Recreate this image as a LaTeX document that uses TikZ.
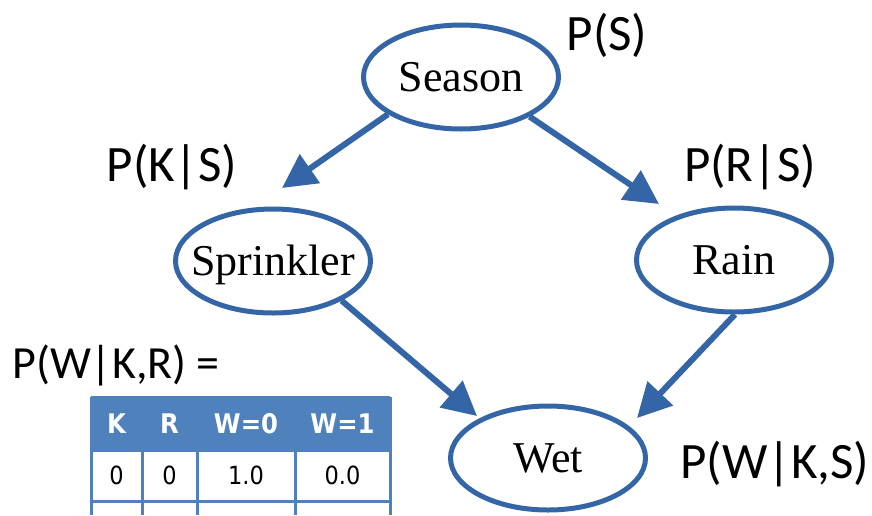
\documentclass[tikz,border=0pt]{standalone}
\usepackage{fontspec}
\setmainfont{Liberation Serif}
\newfontfamily\lbl{Carlito}
\newfontfamily\tbl{DejaVu Sans Condensed}
\usetikzlibrary{arrows.meta,shapes.geometric}
\definecolor{edgeblue}{RGB}{52,101,166}
\definecolor{hdrblue}{RGB}{79,129,189}
\newcommand{\ctext}[1]{\makebox[0pt]{\smash{\raisebox{-0.33em}{#1}}}}
\begin{document}
\begin{tikzpicture}[x=1pt,y=-1pt,
  bn/.style={ellipse,draw=edgeblue,line width=5pt,minimum width=195pt,minimum height=104pt,inner sep=0pt,font=\fontsize{44}{48}\selectfont},
  edge/.style={draw=edgeblue,line width=6pt,-{Triangle[length=34pt,width=34pt]}},
  lab/.style={font=\lbl\fontsize{51}{56}\selectfont,anchor=base,inner sep=0pt},
  hd/.style={font=\tbl\bfseries\fontsize{27}{30}\selectfont,text=white,inner sep=0pt},
  cell/.style={font=\tbl\fontsize{25}{28}\selectfont,inner sep=0pt},
  grid/.style={draw=hdrblue,line width=3pt}]
\useasboundingbox (0,0) rectangle (872,515);
% nodes
\node[bn] (S) at (461,77) {\ctext{Season}};
\node[bn] (K) at (273,261) {\ctext{Sprinkler}};
\node[bn] (R) at (734,260) {\ctext{Rain}};
\node[bn] (W) at (548,458) {\ctext{Wet}};
% arrow tips
\coordinate (t1) at (282,188);
\coordinate (t2) at (659,204);
\coordinate (t3) at (477,416);
\coordinate (t4) at (637,418);
\draw[edge] (S.207.5) -- (t1);
\draw[edge] (S.330.5) -- (t2);
\draw[edge] (K.330.3) -- (t3);
\draw[edge] (R.271) -- (t4);
% labels
\node[lab] (lS) at (607,50) {P(S)};
\node[lab] (lK) at (172,181) {P(K|S)};
\node[lab] (lR) at (750,181) {P(R|S)};
\node[lab,font=\lbl\fontsize{46}{50}\selectfont] (lWKR) at (116,378) {P(W|K,R) =};
\node[lab] (lWKS) at (775,478) {P(W|K,S)};
% table
\fill[hdrblue] (91,397) rectangle (390,450);
\draw[grid] (91,397) -- (390,397);
\draw[grid] (91,450) -- (390,450);
\draw[grid] (91,501) -- (390,501);
\foreach \x in {91,142,197,295,390} {\draw[grid] (\x,397) -- (\x,515);}
\node[hd] (hK) at (116.5,423.5) {K};
\node[hd] (hR) at (169.5,423.5) {R};
\node[hd] (hW0) at (246,423.5) {W=0};
\node[hd] (hW1) at (342.5,423.5) {W=1};
\node[cell] (c1) at (116.5,475.5) {0};
\node[cell] (c2) at (169.5,475.5) {0};
\node[cell] (c3) at (246,475.5) {1.0};
\node[cell] (c4) at (342.5,475.5) {0.0};
\end{tikzpicture}
\end{document}
